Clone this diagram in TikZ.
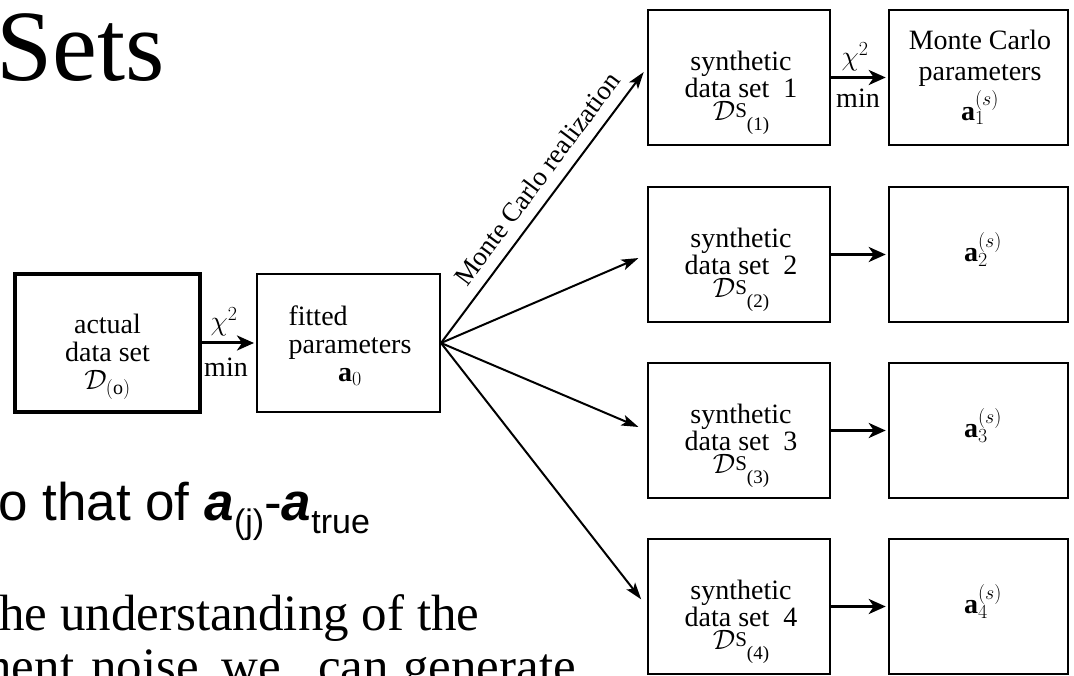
\RequirePackage{fix-cm}
\documentclass[tikz,border=0pt]{standalone}
\usepackage{fontspec}
\setmainfont{Liberation Serif}
\newfontfamily\sansf{Liberation Sans}
\usetikzlibrary{arrows.meta,calc}
\DeclareMathSizes{28}{28}{20}{15}
\newcommand\bxf{\fontsize{28}{28}\selectfont}
\newcommand\synD[1]{$\mathcal{D}$\raisebox{3pt}{\fontsize{21}{21}\selectfont S}\raisebox{-10pt}{\fontsize{19}{19}\selectfont(#1)}}
\begin{document}
\begin{tikzpicture}[x=1pt,y=-1pt,
 boxs/.style={draw, rectangle, inner sep=0pt, minimum width=182pt, minimum height=135pt, line width=2.5pt},
 mcbox/.style={boxs, minimum width=179pt},
 txt/.style={inner sep=0pt, align=center, font=\bxf},
 slide/.style={anchor=base west, inner sep=0pt, font=\fontsize{51}{51}\selectfont},
 thickarr/.style={line width=3pt, -{Stealth[length=17pt,width=15pt,inset=5pt]}, shorten >=2pt},
 fanarr/.style={line width=2pt, -{Stealth[length=17pt,width=11pt,inset=4pt]}},
]
\useasboundingbox (0,0) rectangle (1074,676);

% slide text
\node[anchor=base west, inner sep=0pt, font=\fontsize{101}{101}\selectfont] (title) at (-4,81) {Sets};
\node[anchor=base west, inner sep=0pt, font=\sansf\fontsize{53}{53}\selectfont] (sline) at (-2,520)
  {o that of \textbf{\textit{a}}\raisebox{-13pt}{\fontsize{34}{34}\selectfont(j)}-\textbf{\textit{a}}\raisebox{-13pt}{\fontsize{34}{34}\selectfont true}};
\node[slide] (l1) at (-1,630) {he understanding of the};
\node[slide] (w1) at (-28,683) {ment};
\node[slide] (w2) at (91,683) {noise,};
\node[slide] (w3) at (221,683) {we};
\node[slide] (w4) at (318,683) {can};
\node[slide] (w5) at (403,683) {generate};

% left boxes
\node[boxs, line width=4pt, minimum width=185pt, minimum height=138pt] (act) at (107.5,343) {};
\node[txt] (actt) at (107.5,357) {actual\\data set\\$\mathcal{D}_{(\mathrm{o})}$};
\node[boxs, line width=2pt, minimum width=183pt, minimum height=138pt] (fit) at (348.5,343) {};
\node[txt] (fitt) at (350,348) {\begin{tabular}{@{}l@{}}fitted\\parameters\\\multicolumn{1}{@{}c@{}}{$\mathbf{a}_0$}\end{tabular}};

% synthetic and Monte Carlo boxes
\foreach \i/\y in {1/77.5,2/254.5,3/430.5,4/606.5}{
  \node[boxs] (s\i) at (739,\y) {};
  \node[txt] (st\i) at (741,\y+15) {synthetic\\[-1pt]data set\ \ \i\\[-5pt]\synD{\i}};
  \node[mcbox] (m\i) at (978.5,\y) {};
}
\node[txt] (mt1) at (980,77.5) {Monte Carlo\\[3pt]parameters\\[3pt]$\mathbf{a}^{(s)}_1$};
\foreach \i/\y in {2/249.5,3/425.5,4/601.5}{
  \node[txt] (mt\i) at (983,\y) {$\mathbf{a}^{(s)}_{\i}$};
}

% labels chi^2 / min
\node[txt] (chi0) at (224,322) {$\chi^2$};
\node[txt] (min0) at (226,367) {min};
\node[txt] (chi1) at (855,57) {$\chi^2$};
\node[txt] (min1) at (858,98) {min};

% connectors
\draw[thickarr] (act) -- (fit);
\foreach \i in {1,2,3,4}{\draw[thickarr] (s\i) -- (m\i);}
\draw[fanarr, shorten >=5pt] (fit.east) -- ([yshift=9.5pt]s1.west)
  node[sloped, pos=0.55, above=11pt, inner sep=0pt, font=\fontsize{27}{27}\selectfont] (mcr) {Monte Carlo realization};
\draw[fanarr, shorten >=9pt] (fit.east) -- (s2.west);
\draw[fanarr, shorten >=9pt] (fit.east) -- (s3.west);
\draw[fanarr, shorten >=9pt] (fit.east) -- (s4.west);
\end{tikzpicture}
\end{document}
